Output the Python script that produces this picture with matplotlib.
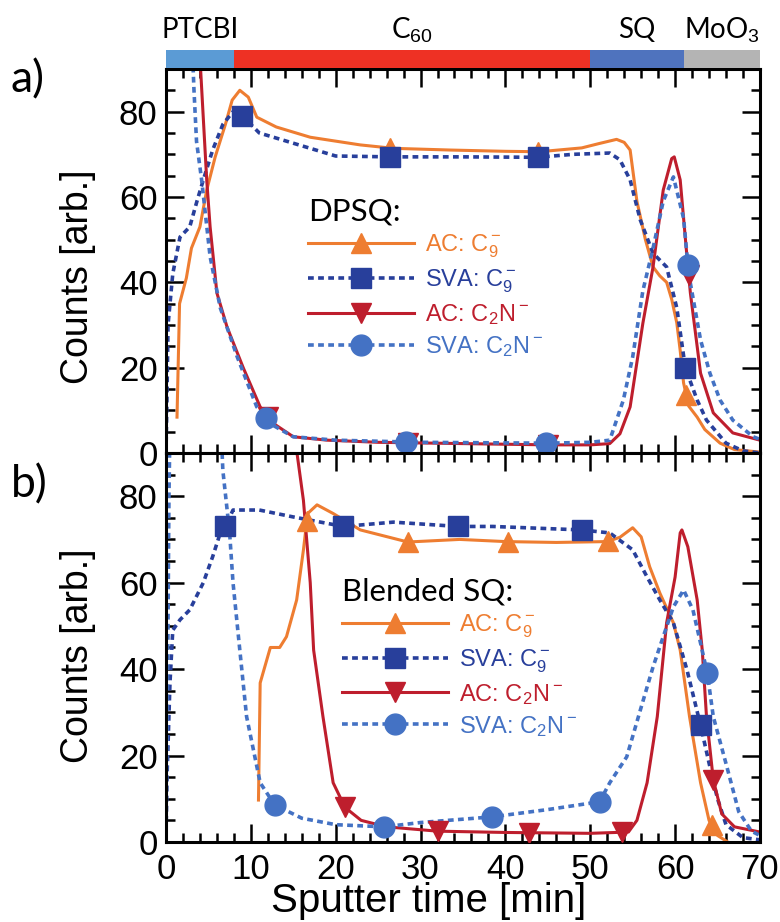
import numpy as np
import matplotlib
matplotlib.use('Agg')
import matplotlib.pyplot as plt
from matplotlib.lines import Line2D
from matplotlib.ticker import MultipleLocator

plt.rcParams['font.family'] = ['Liberation Sans', 'DejaVu Sans']
plt.rcParams['mathtext.fontset'] = 'custom'
plt.rcParams['mathtext.rm'] = 'Liberation Sans'
plt.rcParams['mathtext.it'] = 'Liberation Sans:italic'
plt.rcParams['mathtext.bf'] = 'Liberation Sans:bold'

# layer stack drawn above panel a
layers = ['PTCBI', 'C$_{60}$', 'SQ', 'MoO$_3$']
layer_start = [0, 8, 50, 61]
layer_end = [8, 50, 61, 70]

labels = ['AC: C$_9^-$', 'SVA: C$_9^-$', 'AC: C$_2$N$^-$', 'SVA: C$_2$N$^-$']

# ---- panel a: DPSQ ----
a_ac_c9_x = [1.3, 1.6, 2.4, 3.0, 4.0, 4.8, 5.8, 7.0, 7.8, 8.7, 9.7, 10.7, 13.0, 17.0, 22.9, 26.8,
             33.5, 40, 44, 49, 51, 53.1, 54.0, 54.7, 55.5, 56.5, 57.4, 58.2, 59.0, 59.6, 60.2,
             60.6, 61.0, 61.6, 62.6, 63.5, 65.3, 67.0, 70.0]
a_ac_c9_y = [8.4, 35, 41, 48, 53, 61.6, 69.4, 77, 82.7, 85, 83.4, 78.7, 76.4, 74, 72.2, 71.4,
             71, 70.7, 70.6, 71.5, 72.5, 73.5, 72.8, 71, 59, 50, 43.6, 41.5, 40, 36, 30.5,
             24, 16.4, 11, 8.4, 5.5, 2.3, 0.8, 0.2]
a_sva_c9_x = [0, 0.1, 0.24, 0.8, 1.65, 2.8, 3.65, 4.4, 5.5, 6.7, 7.9, 9.0, 11, 15, 20, 26.4, 35,
              43.8, 48, 52.3, 53.5, 54.7, 55.9, 57.4, 59.0, 60.2, 61.2, 62.6, 63.7, 66.0, 68.0, 70]
a_sva_c9_y = [0, 10.8, 30, 42, 50.6, 53, 59, 64, 71, 77, 80, 79, 75, 72.6, 69.6, 69.4, 69.4,
              69.3, 70, 70.3, 68.7, 64, 54.6, 46.8, 43.6, 34, 20, 12.4, 7.7, 2.3, 0.5, 0]
a_ac_c2n_x = [3.8, 4.8, 5.2, 6.0, 7.2, 9.1, 11.1, 12.6, 15, 19, 25, 35, 45, 50, 52.3, 53.5,
              54.7, 56.2, 57.4, 58.6, 59.6, 59.9, 60.6, 61.4, 61.8, 63.0, 64.5, 66.8, 70]
a_ac_c2n_y = [100, 64, 53, 37.5, 29.5, 20, 10.8, 7, 3.8, 3, 2.5, 2.2, 1.9, 1.9, 2.2, 4.5,
              10.8, 30.4, 43.6, 61.6, 69, 69.4, 64, 46, 37.5, 18.7, 9.4, 4.7, 3]
a_sva_c2n_x = [3.0, 3.3, 3.6, 4.2, 5.2, 6.4, 8.4, 10.7, 12.6, 15, 20, 30, 45, 50, 52.3, 53.9,
               55.0, 56.2, 57.4, 58.6, 59.8, 61.0, 61.6, 63.0, 64.1, 65.3, 66.8, 69.2, 70]
a_sva_c2n_y = [100, 85, 73, 64, 46, 34, 22.5, 10.8, 6.5, 3.8, 3.0, 2.5, 2.3, 2.5, 3, 12.4,
               22.5, 38, 48, 59, 64.7, 55, 42, 26.5, 18.7, 12.4, 7.7, 3.8, 3.2]
a_marks = [[26.4, 43.8, 61.3], [9, 26.4, 43.8, 61.2],
           [12, 28.5, 45, 61.6], [11.8, 28.3, 44.8, 61.5]]

# ---- panel b: blended SQ ----
b_ac_c9_x = [10.9, 11.1, 12.3, 13.4, 14.2, 15.4, 16.2, 16.7, 17.8, 19.7, 22.9, 28.5, 34.6, 40,
             46, 52, 53.5, 55.0, 56.0, 57.0, 58.2, 59.8, 60.6, 61.7, 63.0, 64.0, 65.0, 66.2]
b_ac_c9_y = [9.7, 36.8, 45, 45, 47.5, 56, 67.6, 76, 78, 76, 72.2, 69.4, 70, 69.5,
             69.3, 69.5, 70.5, 72.7, 70.6, 63.7, 57.6, 50.7, 44.4, 29, 13.7, 5, 1.5, 0]
b_sva_c9_x = [0, 0.1, 0.47, 0.8, 1.65, 2.8, 4.4, 5.5, 6.4, 7.0, 7.9, 11, 15, 20.9, 26.8, 34.4,
              38.5, 45, 49, 52.3, 55, 56.7, 58.2, 59.8, 61.4, 63.0, 64.1, 65.0, 66.0, 68.0, 70]
b_sva_c9_y = [0, 13.6, 36.8, 49, 51.4, 53.7, 60, 66, 71.5, 73, 76.8, 76.8, 75.2, 73, 74, 73,
              73, 72.5, 72.2, 71.5, 67.6, 61.3, 56, 50.7, 39.8, 27, 17.4, 10, 4, 1, 0.5]
b_ac_c2n_x = [15.3, 16.2, 17.0, 17.4, 18.5, 19.7, 21.1, 23, 26, 32, 40, 50, 54.5, 55.5, 56.7,
              57.9, 59, 60, 60.6, 60.8, 61.5, 62.6, 63.2, 63.7, 64.5, 65.5, 67, 70]
b_ac_c2n_y = [92, 79, 60, 44.4, 29, 13.7, 8, 5, 3.5, 2.5, 2.2, 2, 2.3, 5, 13.7,
              29, 50.7, 61.3, 71.5, 72.2, 68.3, 56, 44.4, 29, 14.4, 6.5, 3.5, 2.3]
b_sva_c2n_x = [0, 0.2, 0.35, 0.5, 6.4, 6.7, 7.5, 7.9, 8.7, 9.5, 11.1, 12.0, 12.8, 16, 20, 25.7,
               30, 38.4, 45, 51.1, 52.3, 54.3, 55.9, 57.4, 58.6, 59.8, 61.0, 62.1, 63.0, 63.8,
               64.5, 66.1, 67.5, 69, 70]
b_sva_c2n_y = [0, 40, 80, 100, 100, 86, 71.5, 60, 44.4, 29, 13.7, 11, 8.6, 5.5, 4, 3.5,
               4.5, 5.8, 7.5, 9.3, 13.7, 19.7, 30.5, 40.5, 47.5, 54.4, 58.3, 53.7, 46, 39,
               29, 17.4, 7, 2.5, 1.5]
b_marks = [[16.6, 28.5, 40.3, 52.1, 64.3], [7.0, 20.9, 34.4, 49, 63.0],
           [21.1, 32, 42.8, 53.7, 64.5], [12.8, 25.7, 38.4, 51.1, 63.8]]

colors = ['#EE7D31', '#283F9B', '#BE1E2D', '#4472C4']
markers = ['^', 's', 'v', 'o']
msizes = [14, 14, 14, 15]
dotted = (0, (1.6, 1.2))
styles = ['-', dotted, '-', dotted]
widths = [2.2, 2.6, 2.2, 2.6]

fig = plt.figure(figsize=(7.8, 9.22), dpi=100)
ax_a = fig.add_axes([0.2128, 0.5087, 0.7615, 0.4165])
ax_b = fig.add_axes([0.2128, 0.0868, 0.7615, 0.4219])
bar_ax = fig.add_axes([0.2128, 0.9262, 0.7615, 0.0195])


def draw_panel(ax, curves, marks, title, anchor):
    for i in [0, 2, 1, 3]:
        x, y = curves[i]
        ax.plot(x, y, color=colors[i], ls=styles[i], lw=widths[i], zorder=2 + i * 0.1)
    for i in [0, 2, 1, 3]:
        x, y = curves[i]
        mx = np.array(marks[i])
        ax.plot(mx, np.interp(mx, x, y), ls='none', marker=markers[i], ms=msizes[i],
                color=colors[i], zorder=4 + i * 0.1)
    handles = [Line2D([], [], color=colors[i], ls=styles[i], lw=widths[i],
                      marker=markers[i], ms=msizes[i]) for i in range(4)]
    ax.legend(handles, labels, title=title, loc='upper left', bbox_to_anchor=anchor,
              frameon=False, fontsize=17, numpoints=1,
              title_fontproperties={'family': 'Lato', 'size': 22.5},
              handlelength=4.5, handletextpad=0.45, labelspacing=0.3,
              borderpad=0, borderaxespad=0, alignment='left', labelcolor='linecolor')

    ax.set_xlim(0, 70)
    ax.set_ylim(0, 90)
    ax.xaxis.set_major_locator(MultipleLocator(10))
    ax.xaxis.set_minor_locator(MultipleLocator(2))
    ax.yaxis.set_major_locator(MultipleLocator(20))
    ax.yaxis.set_minor_locator(MultipleLocator(5))
    ax.tick_params(which='both', direction='in', top=True, right=True, width=1.8,
                   labelsize=25, pad=6)
    ax.tick_params(which='major', length=13)
    ax.tick_params(which='minor', length=6.5)
    for s in ax.spines.values():
        s.set_linewidth(2.2)
    ax.set_ylabel('Counts [arb.]', fontsize=27)


draw_panel(ax_a, [(a_ac_c9_x, a_ac_c9_y), (a_sva_c9_x, a_sva_c9_y),
                  (a_ac_c2n_x, a_ac_c2n_y), (a_sva_c2n_x, a_sva_c2n_y)],
           a_marks, 'DPSQ:', (0.239, 0.665))
draw_panel(ax_b, [(b_ac_c9_x, b_ac_c9_y), (b_sva_c9_x, b_sva_c9_y),
                  (b_ac_c2n_x, b_ac_c2n_y), (b_sva_c2n_x, b_sva_c2n_y)],
           b_marks, 'Blended SQ:', (0.296, 0.68))

ax_a.tick_params(labelbottom=False)
ax_a.yaxis.set_label_coords(-0.118, 0.46)
ax_b.yaxis.set_label_coords(-0.118, 0.48)
ax_b.set_xlabel('Sputter time [min]', fontsize=29, va='baseline')
ax_b.xaxis.set_label_coords(0.443, -0.181)
ax_b.tick_params(axis='x', pad=8)

# layer bar
bar_ax.barh(0, np.subtract(layer_end, layer_start), left=layer_start, height=1,
            color=['#5B9BD5', '#EE3124', '#4F73BE', '#B4B4B4'])
bar_ax.set_xlim(0, 70)
bar_ax.set_ylim(-0.5, 0.5)
bar_ax.axis('off')
for name, s, e in zip(layers, layer_start, layer_end):
    bar_ax.text((s + e) / 2, 1.67, name, transform=bar_ax.get_xaxis_transform(),
                ha='center', va='baseline', fontsize=20, family=['Lato', 'DejaVu Sans'])

fig.text(0.014, 0.900, 'a)', fontsize=32, family='Lato', va='baseline')
fig.text(0.014, 0.461, 'b)', fontsize=32, family='Lato', va='baseline')

fig.savefig('out.png', dpi=100)
